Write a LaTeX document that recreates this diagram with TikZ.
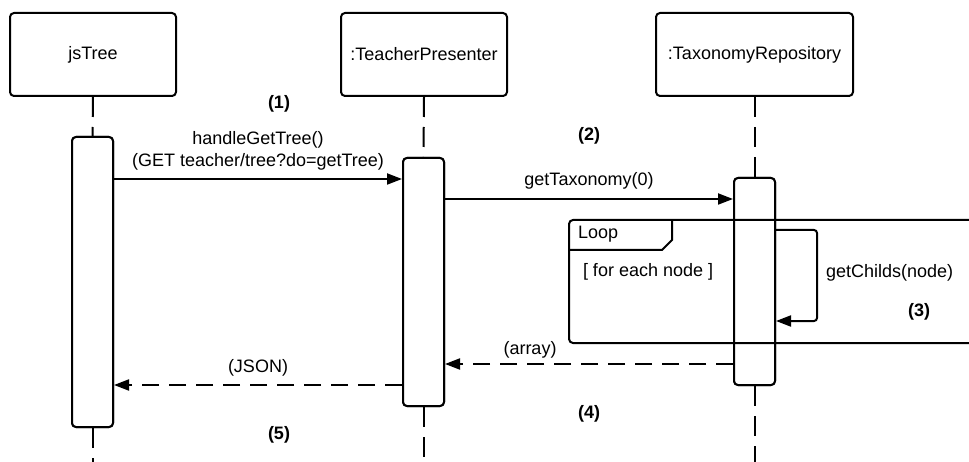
\documentclass[tikz,border=0pt]{standalone}
\usepackage{fontspec}
\setmainfont{Liberation Sans}
\usetikzlibrary{arrows.meta}
\begin{document}
\begin{tikzpicture}[x=1pt,y=-1pt,line width=2pt,
  every node/.style={font=\fontsize{18}{22}\selectfont, inner sep=0pt},
  obj/.style={draw, rounded corners=4pt, minimum width=166pt, minimum height=83pt},
  act/.style={draw, fill=white, rounded corners=4pt, minimum width=41pt},
  lifeline/.style={dash pattern=on 20pt off 10pt},
  msg/.style={-{Triangle[length=15pt,width=11pt]}},
  ret/.style={msg, dash pattern=on 17pt off 10pt},
  num/.style={font=\fontsize{18}{22}\selectfont\bfseries}]
\useasboundingbox (0,0) rectangle (969,462);

% objects
\node[obj] (js) at (93,54.5) {jsTree};
\node[obj] (tp) at (424,54.5) {:TeacherPresenter};
\node[obj, minimum width=197pt] (tr) at (754.5,54.5) {:TaxonomyRepository};

% y levels
\coordinate (y1) at (0,179);
\coordinate (y2) at (0,199);
\coordinate (y3) at (0,230);
\coordinate (y4) at (0,321);
\coordinate (y5) at (0,364);
\coordinate (y6) at (0,385);
\coordinate (bot) at (0,462);

% activations
\node[act, minimum height=290pt] (aA) at (92.5,282) {};
\node[act, minimum height=248pt] (aB) at (423.5,282) {};
\node[act, minimum height=207pt] (aC) at (754.5,281.5) {};

% lifelines
\draw[lifeline] (js.south) -- (aA.north);
\draw[lifeline] (aA.south) -- (aA.south |- bot);
\draw[lifeline] (tp.south) -- (aB.north);
\draw[lifeline] (aB.south) -- (aB.south |- bot);
\draw[lifeline] (tr.south) -- (aC.north);
\draw[lifeline] (aC.south) -- (aC.south |- bot);

% redraw activations on top
\node[act, minimum height=290pt] at (92.5,282) {};
\node[act, minimum height=248pt] at (423.5,282) {};
\node[act, minimum height=207pt] at (754.5,281.5) {};

% messages
\draw[msg] (aA.east |- y1) -- (aB.west |- y1);
\draw[msg] (aB.east |- y2) -- (aC.west |- y2);
\draw[msg, rounded corners=3pt] (aC.east |- y3) -- (817,230) -- (817,321) -- (aC.east |- y4);
\draw[ret] (aC.west |- y5) -- (aB.east |- y5);
\draw[ret] (aB.west |- y6) -- (aA.east |- y6);

% loop frame
\draw[rounded corners=4pt] (980,220) -- (569,220) -- (569,343) -- (980,343);
\draw (569,250) -- (662,250) -- (672,240) -- (672,220);
\node[anchor=west] (loop) at (577,234) {Loop};
\node[anchor=west] (guard) at (582,272) {[ for each node ]};

% labels
\node (l1a) at (258,140) {handleGetTree()};
\node (l1b) at (258,162) {(GET teacher/tree?do=getTree)};
\node (l2) at (589,181) {getTaxonomy(0)};
\node[anchor=west] (l3) at (825,273) {getChilds(node)};
\node (l4) at (530,350) {(array)};
\node (l5) at (258,368) {(JSON)};

\node[num] (n1) at (279,104) {(1)};
\node[num] (n2) at (589,136) {(2)};
\node[num] (n3) at (919,312) {(3)};
\node[num] (n4) at (589,414) {(4)};
\node[num] (n5) at (279,435) {(5)};
\end{tikzpicture}
\end{document}
